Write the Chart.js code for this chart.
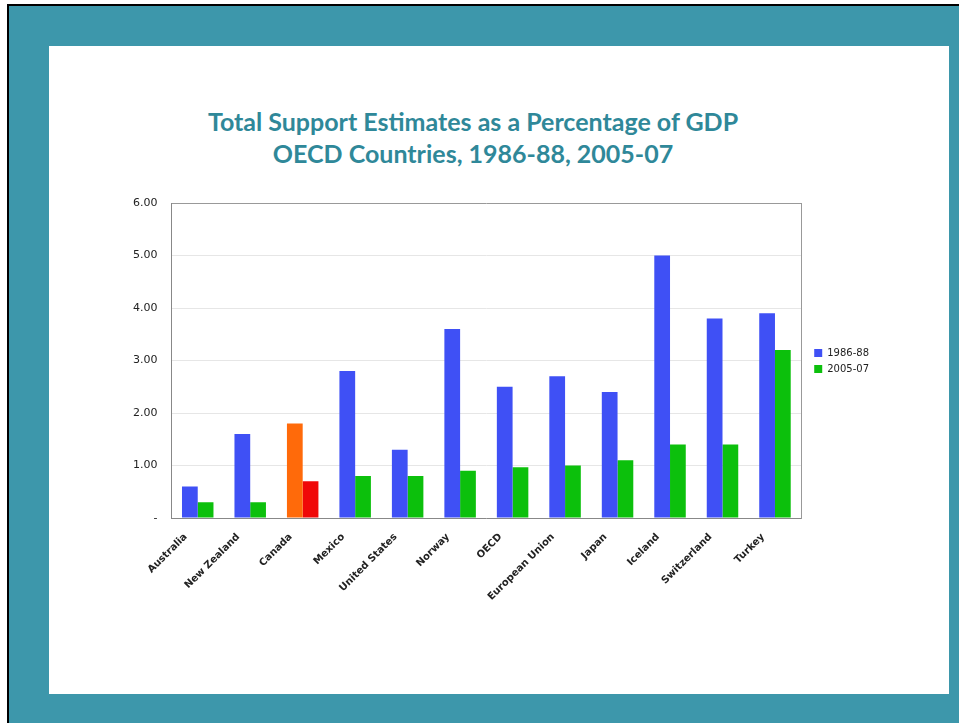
<!DOCTYPE html>
<html>
<head>
<meta charset="utf-8">
<script src="https://cdn.jsdelivr.net/npm/chart.js@4.4.1/dist/chart.umd.min.js"></script>
<style>
  html, body { margin: 0; padding: 0; background: #fff; }
  body { width: 959px; height: 723px; position: relative; overflow: hidden; }
  .frame {
    position: absolute; left: 7px; top: 4px; right: 0; bottom: 0;
    background: #3d97ab;
    border-top: 2px solid #000; border-left: 2px solid #000;
  }
  .panel {
    position: absolute; left: 49px; top: 46px; width: 900px; height: 648px;
    background: #fff;
  }
  .title {
    position: absolute; left: 0; top: 59px; width: 848px;
    text-align: center; color: #2f8899;
    font-family: Lato, "Open Sans", sans-serif; font-weight: bold; font-size: 25px;
    line-height: 32px;
  }
  #chart { position: absolute; left: 0; top: 0; }
</style>
</head>
<body>
<div class="frame"></div>
<div class="panel">
  <div class="title">Total Support Estimates as a Percentage of GDP<br>OECD Countries, 1986-88, 2005-07</div>
  <canvas id="chart" width="900" height="648"></canvas>
</div>
<script>
const countries = ['Australia', 'New Zealand', 'Canada', 'Mexico', 'United States', 'Norway',
  'OECD', 'European Union', 'Japan', 'Iceland', 'Switzerland', 'Turkey'];
const tse1986 = [0.6, 1.6, 1.8, 2.8, 1.3, 3.6, 2.5, 2.7, 2.4, 5.0, 3.8, 3.9];
const tse2005 = [0.3, 0.3, 0.7, 0.8, 0.8, 0.9, 0.97, 1.0, 1.1, 1.4, 1.4, 3.2];
const yTickLabels = ['-', '1.00', '2.00', '3.00', '4.00', '5.00', '6.00'];
const highlightIndex = 2; // Canada shown in orange / red

const tickFont = { family: 'DejaVu Sans', size: 11 };

const barColor = (base, hl) => (ctx) => ctx.dataIndex === highlightIndex ? hl : base;

new Chart(document.getElementById('chart'), {
  type: 'bar',
  data: {
    labels: countries,
    datasets: [
      {
        label: '1986-88',
        data: tse1986,
        backgroundColor: barColor('#3f50f5', '#ff6a0a'),
        categoryPercentage: 0.6,
        barPercentage: 1.0
      },
      {
        label: '2005-07',
        data: tse2005,
        backgroundColor: barColor('#0cc00c', '#f00808'),
        categoryPercentage: 0.6,
        barPercentage: 1.0
      }
    ]
  },
  options: {
    responsive: false,
    animation: false,
    layout: { padding: { left: 70, top: 157, right: 70, bottom: 86 } },
    plugins: {
      title: { display: false },
      tooltip: { enabled: false },
      legend: {
        position: 'right',
        align: 'start',
        // empty title only pushes the items down next to the middle of the plot
        title: { display: true, text: '', font: { size: 10 }, padding: { top: 127, bottom: 0 } },
        labels: {
          boxWidth: 8, boxHeight: 8, padding: 6,
          color: '#222', font: { family: 'DejaVu Sans', size: 10 }
        }
      }
    },
    scales: {
      x: {
        grid: { display: false },
        border: { color: '#888' },
        ticks: {
          color: '#222', font: { family: 'DejaVu Sans', size: 10, weight: 'bold' },
          minRotation: 45, maxRotation: 45, autoSkip: false,
          padding: 5, labelOffset: -12
        }
      },
      y: {
        min: 0, max: 6,
        grid: {
          drawTicks: false,
          color: (ctx) => ctx.tick && ctx.tick.value === 6 ? '#999' : '#e6e6e6'
        },
        border: { color: '#888' },
        ticks: {
          stepSize: 1, padding: 14, color: '#222', font: tickFont,
          callback: (v, i) => yTickLabels[i]
        }
      },
      yRight: {
        position: 'right',
        min: 0, max: 6,
        grid: { display: false },
        border: { color: '#999' },
        ticks: { display: false },
        afterFit: (s) => { s.width = 7; }
      }
    }
  }
});
</script>
</body>
</html>
